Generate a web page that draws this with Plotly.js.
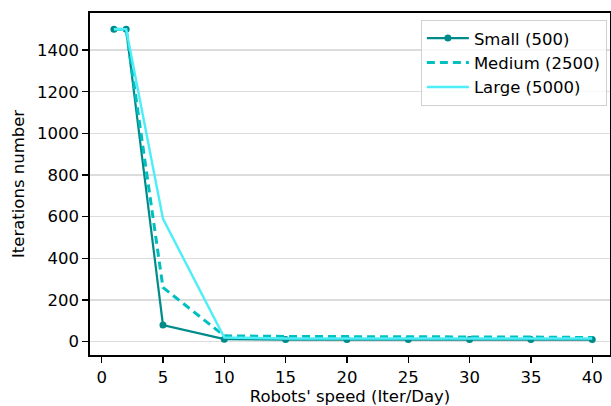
<!DOCTYPE html>
<html>
<head>
<meta charset="utf-8">
<script src="https://cdn.plot.ly/plotly-3.0.1.min.js"></script>
<style>html,body{margin:0;padding:0;background:#fff;}#chart{width:611px;height:406px;}</style>
</head>
<body>
<div id="chart"></div>
<script>
const speeds = [1, 2, 5, 10, 15, 20, 25, 30, 35, 40];
const smallIter = [1500, 1500, 80, 12, 10, 10, 10, 10, 10, 10];
const mediumIter = [1500, 1500, 260, 28, 25, 25, 25, 23, 22, 20];
const largeIter = [1500, 1500, 590, 20, 15, 15, 15, 15, 15, 15];
const seriesNames = ["Small (500)", "Medium (2500)", "Large (5000)"];
const xTicks = [0, 5, 10, 15, 20, 25, 30, 35, 40];
const yTicks = [0, 200, 400, 600, 800, 1000, 1200, 1400];

const font = {family: "DejaVu Sans, sans-serif", size: 16.5, color: "#000"};

const traces = [
  {x: speeds, y: smallIter, name: seriesNames[0], mode: "lines+markers",
   line: {color: "#008B8B", width: 2.2}, marker: {color: "#008B8B", size: 7}},
  {x: speeds, y: mediumIter, name: seriesNames[1], mode: "lines",
   line: {color: "#00BFBF", width: 3, dash: "8px,5px"}},
  {x: speeds, y: largeIter, name: seriesNames[2], mode: "lines",
   line: {color: "#4DEEF8", width: 2.4}}
];

const layout = {
  width: 611, height: 406,
  margin: {l: 90, r: 1, t: 13, b: 51},
  paper_bgcolor: "#fff", plot_bgcolor: "#fff",
  font: font,
  showlegend: true,
  legend: {x: 0.994, y: 0.98, xanchor: "right", yanchor: "top",
    itemwidth: 42,
    bgcolor: "rgba(255,255,255,0.8)", bordercolor: "#d0d0d0", borderwidth: 1,
    font: font},
  xaxis: {
    range: [-0.95, 41.45], tickvals: xTicks, ticktext: xTicks.map(String),
    showgrid: false, zeroline: false,
    showline: true, linecolor: "#000", linewidth: 1.8, mirror: true,
    ticks: "outside", ticklen: 6, tickwidth: 1.4, tickcolor: "#000",
    tickfont: font,
    title: {text: "Robots' speed (Iter/Day)", font: font, standoff: 7}
  },
  yaxis: {
    range: [-64, 1578], tickvals: yTicks, ticktext: yTicks.map(String),
    showgrid: true, gridcolor: "#dcdcdc", gridwidth: 1.5, zeroline: false,
    showline: true, linecolor: "#000", linewidth: 1.8, mirror: true,
    ticks: "outside", ticklen: 6, tickwidth: 1.4, tickcolor: "#000",
    tickfont: font,
    title: {text: "Iterations number", font: font, standoff: 8}
  }
};

Plotly.newPlot("chart", traces, layout, {displayModeBar: false, staticPlot: true});
</script>
</body>
</html>
